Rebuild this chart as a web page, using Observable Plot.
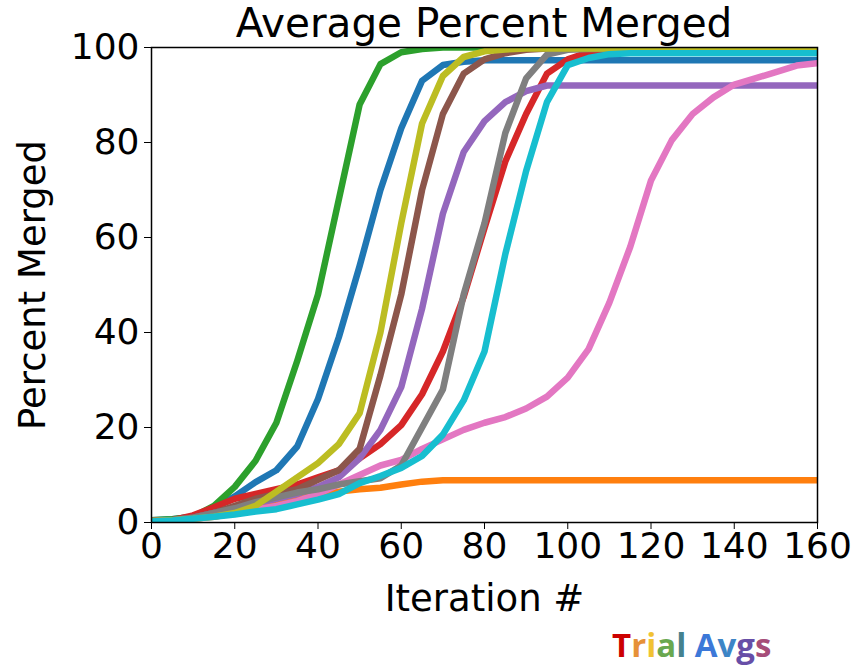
<!DOCTYPE html>
<html>
<head>
<meta charset="utf-8">
<script src="https://cdn.jsdelivr.net/npm/d3@7"></script>
<script src="https://cdn.jsdelivr.net/npm/@observablehq/plot@0.6"></script>
<style>
  html, body { margin: 0; padding: 0; background: #fff; }
  #wrap { position: relative; width: 867px; height: 668px; overflow: hidden; }
  #title { position: absolute; left: 151px; width: 666px; top: 0px; text-align: center;
           font-family: "DejaVu Sans", sans-serif; font-size: 40.5px; line-height: 47px; color: #000; white-space: nowrap; }
  #caption { position: absolute; left: 612px; top: 625px; font-family: "Open Sans", "Noto Sans", sans-serif;
             font-weight: 700; font-size: 33px; line-height: 40px; }
  #chart { position: absolute; left: 0; top: 0; }
</style>
</head>
<body>
<div id="wrap">
  <div id="chart"></div>
  <div id="title">Average Percent Merged</div>
  <div id="caption"></div>
</div>
<script>
const iterations = [0,5,10,15,20,25,30,35,40,45,50,55,60,65,70,75,80,85,90,95,100,105,110,115,120,125,130,135,140,145,150,155,160];

const seriesNames = ["Trial 0","Trial 1","Trial 2","Trial 3","Trial 4","Trial 5","Trial 6","Trial 7","Trial 8","Trial 9"];
const seriesColors = ["#1f77b4","#ff7f0e","#2ca02c","#d62728","#9467bd","#8c564b","#e377c2","#7f7f7f","#bcbd22","#17becf"];

const trial0 = [0.5,0.7,1.2,3,5.5,8.5,11,16,26,39,54,70,83,93,96.3,97,97.3,97.3,97.3,97.3,97.3,97.3,97.3,97.3,97.3,97.3,97.3,97.3,97.3,97.3,97.3,97.3,97.3];
const trial1 = [0.2,0.4,0.8,1.3,2,3,4,5,5.8,6.5,7,7.3,8,8.6,8.9,8.9,8.9,8.9,8.9,8.9,8.9,8.9,8.9,8.9,8.9,8.9,8.9,8.9,8.9,8.9,8.9,8.9,8.9];
const trial2 = [0.5,0.7,1.2,3.5,7.5,13,21,34,48,68,88,96.5,99,99.7,100,100,100,100,100,100,100,100,100,100,100,100,100,100,100,100,100,100,100];
const trial3 = [0.3,0.5,1.5,3.2,5,6,7,8,9.5,11,13.5,16.5,20.5,27,36,47.5,62,76,86,94.5,97.5,99,99.5,99.5,99.5,99.5,99.5,99.5,99.5,99.5,99.5,99.5,99.5];
const trial4 = [0.3,0.5,1,2,3,4,5,6,7.5,9.5,13.5,19.5,28.5,45,65,78,84.5,88.5,90.8,92,92,92,92,92,92,92,92,92,92,92,92,92,92];
const trial5 = [0.3,0.5,1,2,3.5,5,6,7,9,11,15.5,31,48,70,86,94.5,97.5,98.8,99.5,99.8,99.8,99.8,99.8,99.8,99.8,99.8,99.8,99.8,99.8,99.8,99.8,99.8,99.8];
const trial6 = [0.2,0.4,0.8,1.2,2,2.7,3.5,4.5,6,8,10,12,13.2,15.5,17.5,19.5,21,22.2,24,26.5,30.5,36.5,46.3,58,72,80.5,86,89.5,92.2,93.5,94.8,96.2,96.7];
const trial7 = [0.3,0.5,1,2,3,4.3,5.3,6.3,7,8,8.7,9.3,12,20,28,48,63,82,93.5,98.5,99.5,99.7,99.7,99.7,99.7,99.7,99.7,99.7,99.7,99.7,99.7,99.7,99.7];
const trial8 = [0.3,0.5,0.8,1.2,2,3.5,6.5,9.5,12.5,16.5,23,40,63,84,94,98,99.2,99.6,99.8,99.8,99.8,99.8,99.8,99.8,99.8,99.8,99.8,99.8,99.8,99.8,99.8,99.8,99.8];
const trial9 = [0.2,0.4,0.8,1.2,1.7,2.3,2.8,3.8,4.8,6,8.3,9.8,11.5,14,18.5,25.7,36,56.5,74,88.5,96.3,97.8,98.6,98.8,98.8,98.8,98.8,98.8,98.8,98.8,98.8,98.8,98.8];

const xTicks = [0,20,40,60,80,100,120,140,160];
const yTicks = [0,20,40,60,80,100];

const captionText = ["T","r","i","a","l"," ","A","v","g","s"];
const captionColors = ["#cc0000","#e69138","#f1c232","#6aa84f","#45818e","#000","#3c78d8","#3d85c6","#674ea7","#a64d79"];

const allSeries = [trial0, trial1, trial2, trial3, trial4, trial5, trial6, trial7, trial8, trial9];
const rows = [];
allSeries.forEach((vals, si) => {
  vals.forEach((v, i) => rows.push({series: seriesNames[si], x: iterations[i], y: v}));
});

const chart = Plot.plot({
  width: 867,
  height: 668,
  marginLeft: 151,
  marginRight: 50,
  marginTop: 47,
  marginBottom: 146,
  style: {fontFamily: "DejaVu Sans, sans-serif", fontSize: "36px", color: "#000", background: "#fff"},
  x: {domain: [0, 160]},
  y: {domain: [0, 100]},
  color: {type: "ordinal", domain: seriesNames, range: seriesColors},
  marks: [
    Plot.line(rows, {x: "x", y: "y", z: "series", stroke: "series", strokeWidth: 6.5, clip: true, strokeLinejoin: "round", strokeLinecap: "butt"}),
    Plot.frame({stroke: "#000", strokeWidth: 1.5}),
    Plot.axisX({ticks: xTicks, tickSize: 7, tickPadding: 3, tickFormat: d => String(d), fontSize: 36,
                label: null}),
    Plot.axisX({ticks: [], label: "Iteration #", labelAnchor: "center", labelArrow: "none", labelOffset: 88, fontSize: 37}),
    Plot.axisY({ticks: yTicks, tickSize: 7, tickPadding: 5, tickFormat: d => String(d), fontSize: 36,
                label: null}),
    Plot.axisY({ticks: [], label: "Percent Merged", labelAnchor: "center", labelArrow: "none", labelOffset: 133, fontSize: 37})
  ]
});
document.getElementById("chart").appendChild(chart);

const cap = document.getElementById("caption");
captionText.forEach((ch, i) => {
  const s = document.createElement("span");
  s.textContent = ch;
  s.style.color = captionColors[i];
  cap.appendChild(s);
});
</script>
</body>
</html>
